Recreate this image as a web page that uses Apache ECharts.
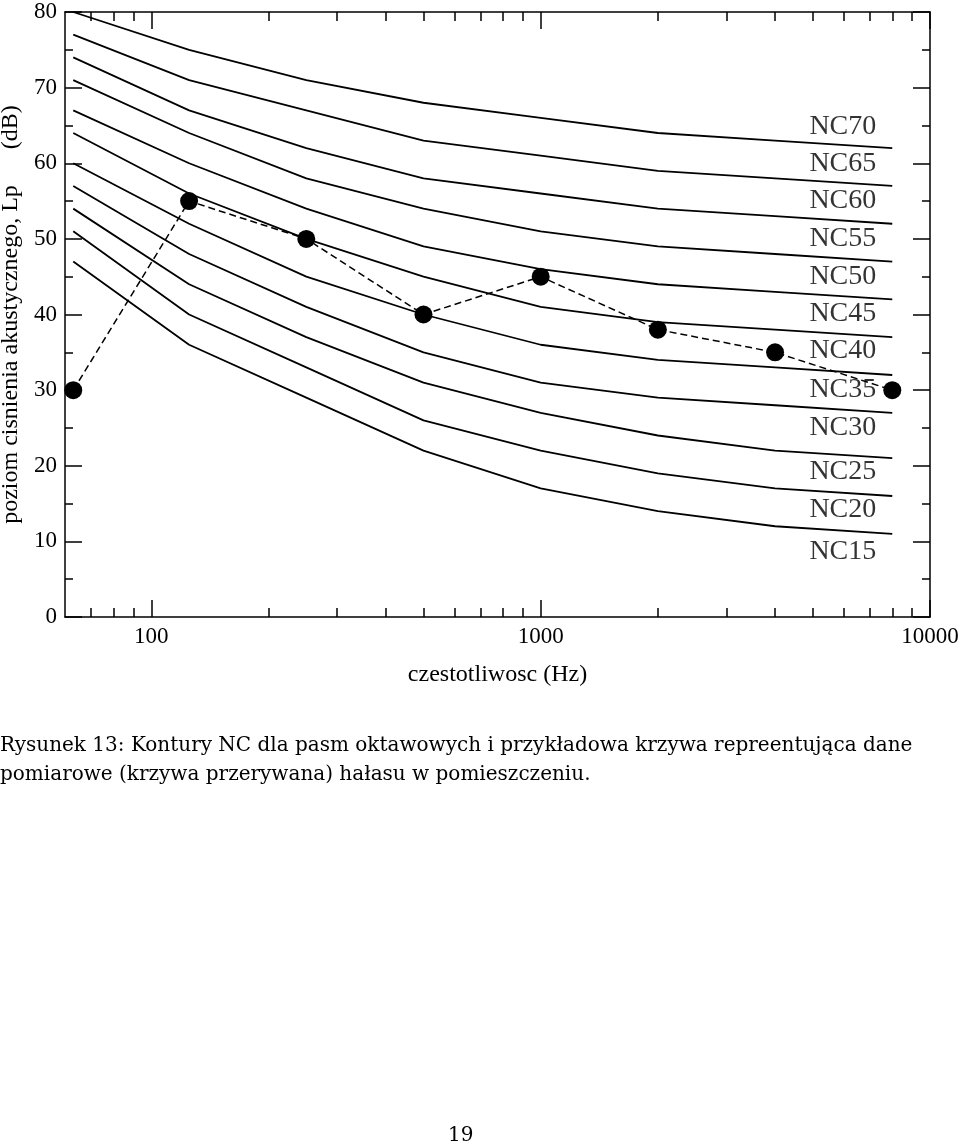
<!DOCTYPE html>
<html><head><meta charset="utf-8">
<script src="https://cdn.jsdelivr.net/npm/echarts@6/dist/echarts.min.js"></script>
<style>html,body{margin:0;padding:0;background:#fff}#c{width:960px;height:1143px}</style>
</head><body><div id="c"></div>
<script>
const frequencies = [63, 125, 250, 500, 1000, 2000, 4000, 8000];
const nc15 = [47, 36, 29, 22, 17, 14, 12, 11];
const nc20 = [51, 40, 33, 26, 22, 19, 17, 16];
const nc25 = [54, 44, 37, 31, 27, 24, 22, 21];
const nc30 = [57, 48, 41, 35, 31, 29, 28, 27];
const nc35 = [60, 52, 45, 40, 36, 34, 33, 32];
const nc40 = [64, 56, 50, 45, 41, 39, 38, 37];
const nc45 = [67, 60, 54, 49, 46, 44, 43, 42];
const nc50 = [71, 64, 58, 54, 51, 49, 48, 47];
const nc55 = [74, 67, 62, 58, 56, 54, 53, 52];
const nc60 = [77, 71, 67, 63, 61, 59, 58, 57];
const nc65 = [80, 75, 71, 68, 66, 64, 63, 62];
const measured = [30, 55, 50, 40, 45, 38, 35, 30];
const ncLabelNames = ['NC70', 'NC65', 'NC60', 'NC55', 'NC50', 'NC45', 'NC40', 'NC35', 'NC30', 'NC25', 'NC20', 'NC15'];
const ncLabelLevels = [64.8, 60, 55, 50, 45, 40.1, 35.2, 30.1, 25.1, 19.2, 14.2, 8.6];
const xMajorTicks = [100, 1000, 10000];
const xMinorTicks = [70, 80, 90, 200, 300, 400, 500, 600, 700, 800, 900, 2000, 3000, 4000, 5000, 6000, 7000, 8000, 9000];
const yTickLabels = [0, 10, 20, 30, 40, 50, 60, 70, 80];

const ncCurves = [nc15, nc20, nc25, nc30, nc35, nc40, nc45, nc50, nc55, nc60, nc65];
const FONT = '"Liberation Serif", "Times New Roman", serif';
const CAPTION_FONT = '"DejaVu Serif", serif';
const LABEL_FREQ = 4900;

const chart = echarts.init(document.getElementById('c'), null, {renderer: 'canvas'});
const axisLineStyle = {color: '#000', width: 1.5};
function xAxisDef(pos, ticks, len, withLine, withLabels) {
  const a = {
    type: 'log', logBase: 10, min: 60, max: 10000, position: pos,
    axisLine: {show: withLine, onZero: false, lineStyle: axisLineStyle},
    axisTick: {show: true, inside: true, length: len, customValues: ticks, lineStyle: axisLineStyle},
    axisLabel: {show: withLabels, customValues: xMajorTicks, color: '#000', fontFamily: FONT, fontSize: 23, margin: 8,
      formatter: v => String(Math.round(v))},
    splitLine: {show: false}, minorTick: {show: false}, minorSplitLine: {show: false}
  };
  if (withLabels) {
    a.name = 'czestotliwosc (Hz)';
    a.nameLocation = 'middle';
    a.nameGap = 46;
    a.nameTextStyle = {color: '#000', fontFamily: FONT, fontSize: 24};
  }
  return a;
}
function yAxisDef(pos, withLabels) {
  const a = {
    type: 'value', min: 0, max: 80, interval: 10, position: pos,
    axisLine: {show: true, onZero: false, lineStyle: axisLineStyle},
    axisTick: {show: true, inside: true, length: 17, lineStyle: axisLineStyle},
    minorTick: {show: true, splitNumber: 2, length: 8, lineStyle: axisLineStyle},
    axisLabel: {show: withLabels, color: '#000', fontFamily: FONT, fontSize: 23, margin: 8,
      formatter: v => (yTickLabels.indexOf(v) >= 0 ? String(v) : '')},
    splitLine: {show: false}, minorSplitLine: {show: false}
  };
  if (withLabels) {
    a.name = 'poziom cisnienia akustycznego, Lp      (dB)';
    a.nameLocation = 'middle';
    a.nameRotate = 90;
    a.nameGap = 42;
    a.nameTextStyle = {color: '#000', fontFamily: FONT, fontSize: 24};
  }
  return a;
}

const series = ncCurves.map(vals => ({
  type: 'line', xAxisIndex: 0, yAxisIndex: 0, silent: true,
  data: frequencies.map((f, i) => [f, vals[i]]),
  symbol: 'none', lineStyle: {color: '#000', width: 1.8}, z: 2
}));
series.push({
  type: 'line', xAxisIndex: 0, yAxisIndex: 0, silent: true,
  data: frequencies.map((f, i) => [f, measured[i]]),
  symbol: 'circle', symbolSize: 18, itemStyle: {color: '#000'},
  lineStyle: {color: '#000', width: 1.5, type: [7, 4]}, z: 4
});
series.push({
  type: 'scatter', xAxisIndex: 0, yAxisIndex: 0, silent: true,
  data: ncLabelNames.map((n, i) => [LABEL_FREQ, ncLabelLevels[i], n]),
  symbolSize: 0, z: 3,
  label: {show: true, position: 'right', distance: 0, formatter: p => p.data[2],
    color: '#000', fontFamily: FONT, fontSize: 28}
});

chart.setOption({
  animation: false,
  backgroundColor: '#fff',
  grid: {left: 65, right: 30, top: 12, bottom: 526, containLabel: false, outerBoundsMode: 'none'},
  xAxis: [
    xAxisDef('bottom', xMajorTicks, 17, true, true),
    xAxisDef('bottom', xMinorTicks, 9, false, false),
    xAxisDef('top', xMajorTicks, 17, true, false),
    xAxisDef('top', xMinorTicks, 9, false, false)
  ],
  yAxis: [yAxisDef('left', true), yAxisDef('right', false)],
  series: series,
  graphic: [
    {type: 'text', left: 0, top: 736, style: {text: 'Rysunek 13: Kontury NC dla pasm oktawowych i przykładowa krzywa repreentująca dane', font: '20px ' + CAPTION_FONT, fill: '#000'}},
    {type: 'text', left: 0, top: 765, style: {text: 'pomiarowe (krzywa przerywana) hałasu w pomieszczeniu.', font: '20px ' + CAPTION_FONT, fill: '#000'}},
    {type: 'text', left: 448, top: 1126, style: {text: '19', font: '20px ' + CAPTION_FONT, fill: '#000'}}
  ]
});
</script>
</body></html>
